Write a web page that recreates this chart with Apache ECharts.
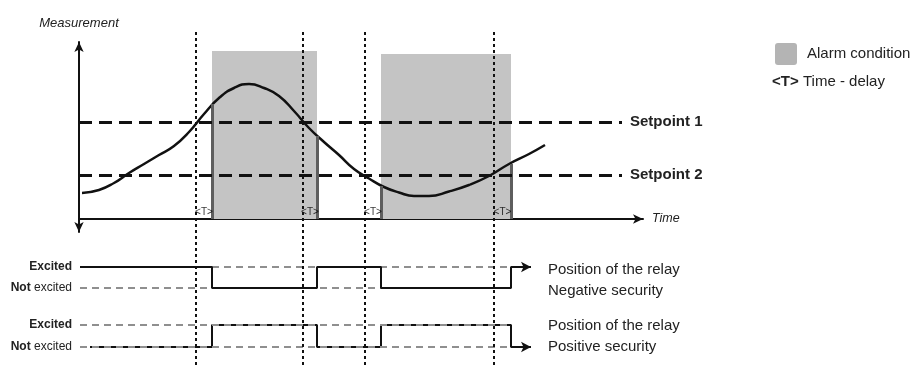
<!DOCTYPE html>
<html>
<head>
<meta charset="utf-8">
<script src="https://cdn.jsdelivr.net/npm/echarts@6.0.0/dist/echarts.min.js"></script>
<style>
  html, body { margin: 0; background: #fff; }
  #main { width: 922px; height: 372px; }
</style>
</head>
<body>
<div id="main"></div>
<script>
const curveTime  = [0.3, 2.0, 3.5, 5.0, 6.5, 8.0, 9.5, 11.0, 12.5, 14.0, 15.5, 17.0, 18.5, 20.0, 21.5, 23.0, 24.5, 26.0, 27.5, 29.0, 30.5, 32.0, 33.5, 35.0, 37.0, 39.0, 41.0, 43.0, 45.0, 46.6];
const curveValue = [2.6, 2.9, 3.6, 4.6, 5.5, 6.4, 7.3, 8.7, 10.5, 12.1, 13.1, 13.5, 13.1, 12.3, 10.8, 9.1, 7.7, 6.4, 5.0, 4.05, 3.2, 2.65, 2.3, 2.3, 2.75, 3.4, 4.3, 5.5, 6.5, 7.4];

const setpointNames  = ['Setpoint 1', 'Setpoint 2'];
const setpointValues = [9.7, 4.4];
const setpointEnd = 54.3;

// where the curve crosses a setpoint, and where the relay switches (after <T>)
const crossTimes  = [11.7, 22.4, 28.6, 41.5];
const switchTimes = [13.3, 23.8, 30.2, 43.2];
const switchLevel = [11.5, 8.3, 3.3, 5.5];
const alarmTops   = [16.8, 16.5];

const negStates = [1, 0, 1, 0, 1];
const posStates = [0, 1, 0, 1, 0];
const relayStart = [0.1, 1.1];
const levelEnd = 43.2;
const relayEnd = 45.2;

const font = 'Liberation Sans, Arial, sans-serif';
const chart = echarts.init(document.getElementById('main'));

const alarmAreas = [
  [{ coord: [switchTimes[0], alarmTops[0]] }, { coord: [switchTimes[1], 0] }],
  [{ coord: [switchTimes[2], alarmTops[1]] }, { coord: [switchTimes[3], 0] }]
];
const edges = switchTimes.map((t, i) => [{ coord: [t, 0] }, { coord: [t, switchLevel[i]] }]);
const setpointLines = setpointValues.map((v, i) => [
  { coord: [0, v], name: setpointNames[i] }, { coord: [setpointEnd, v] }
]);
const delayMarks = crossTimes.map((t, i) => [(t + switchTimes[i]) / 2, 0]);

function relayData(start, states) {
  const d = [[start, states[0]]];
  switchTimes.forEach((t, i) => d.push([t, states[i + 1]]));
  d.push({ value: [relayEnd, states[states.length - 1]], symbol: 'arrow', symbolSize: [8, 10], symbolRotate: -90 });
  return d;
}

function levelSeries(idx, z) {
  return [0, 1].map(v => ({
    type: 'line', xAxisIndex: idx, yAxisIndex: idx, z: z, silent: true,
    symbol: 'none', data: [[0.1, v], [levelEnd, v]],
    lineStyle: { color: '#8f8f8f', width: 2, type: [7, 5] }
  }));
}

const relayAxisLabel = {
  margin: 7, fontFamily: font, fontSize: 12, color: '#222',
  formatter: v => v === 1 ? '{b|Excited}' : '{b|Not} excited',
  rich: { b: { fontWeight: 'bold', fontFamily: font, fontSize: 12, color: '#222' } }
};

const hiddenX = i => ({ gridIndex: i, type: 'value', min: 0, max: 56.4, show: false });
const relayY = i => ({
  gridIndex: i, type: 'value', min: 0, max: 1, interval: 1,
  axisLine: { show: false }, axisTick: { show: false }, splitLine: { show: false },
  axisLabel: relayAxisLabel
});

const option = {
  animation: false,
  backgroundColor: '#fff',
  grid: [
    { left: 79, top: 42, width: 564, height: 190 },
    { left: 79, top: 267, width: 564, height: 21 },
    { left: 79, top: 325, width: 564, height: 22 },
    { left: 79, top: 32, width: 564, height: 333 }
  ],
  xAxis: [
    {
      gridIndex: 0, type: 'value', min: 0, max: 56.4,
      name: 'Time', nameLocation: 'end', nameGap: 9,
      nameTextStyle: { fontFamily: font, fontStyle: 'italic', fontSize: 12.5, color: '#222' },
      axisLine: { lineStyle: { color: '#111', width: 2 }, symbol: ['none', 'arrow'], symbolSize: [7, 10] },
      axisTick: { show: false }, axisLabel: { show: false }, splitLine: { show: false }
    },
    hiddenX(1), hiddenX(2), hiddenX(3)
  ],
  yAxis: [
    {
      gridIndex: 0, type: 'value', min: -1.3, max: 17.7,
      name: 'Measurement', nameLocation: 'end', nameGap: 12,
      nameTextStyle: { fontFamily: font, fontStyle: 'italic', fontSize: 13, color: '#222' },
      axisLine: { lineStyle: { color: '#111', width: 2 }, symbol: ['arrow', 'arrow'], symbolSize: [7, 10] },
      axisTick: { show: false }, axisLabel: { show: false }, splitLine: { show: false }
    },
    relayY(1), relayY(2),
    { gridIndex: 3, type: 'value', min: 0, max: 1, show: false }
  ],
  graphic: [
    { type: 'rect', x: 775, y: 43, shape: { width: 22, height: 22, r: 3 }, style: { fill: '#b4b4b4' } },
    { type: 'text', x: 807, y: 54, style: { text: 'Alarm condition', font: '15px ' + font, fill: '#222', verticalAlign: 'middle' } },
    { type: 'text', x: 772, y: 82, style: { text: '<T>', font: 'bold 15px ' + font, fill: '#222', verticalAlign: 'middle' } },
    { type: 'text', x: 803, y: 82, style: { text: 'Time - delay', font: '15px ' + font, fill: '#222', verticalAlign: 'middle' } },
    { type: 'text', x: 548, y: 270, style: { text: 'Position of the relay', font: '15px ' + font, fill: '#222', verticalAlign: 'middle' } },
    { type: 'text', x: 548, y: 291, style: { text: 'Negative security', font: '15px ' + font, fill: '#222', verticalAlign: 'middle' } },
    { type: 'text', x: 548, y: 326, style: { text: 'Position of the relay', font: '15px ' + font, fill: '#222', verticalAlign: 'middle' } },
    { type: 'text', x: 548, y: 347, style: { text: 'Positive security', font: '15px ' + font, fill: '#222', verticalAlign: 'middle' } }
  ],
  series: [
    {
      type: 'line', xAxisIndex: 0, yAxisIndex: 0, z: 1, data: [], silent: true,
      markArea: { silent: true, itemStyle: { color: '#c4c4c4' }, data: alarmAreas }
    },
    {
      type: 'line', xAxisIndex: 0, yAxisIndex: 0, z: 2, data: [], silent: true,
      markLine: {
        silent: true, symbol: ['none', 'none'], label: { show: false },
        lineStyle: { color: '#5e5e5e', width: 3, type: 'solid' }, data: edges
      }
    },
    {
      type: 'line', xAxisIndex: 0, yAxisIndex: 0, z: 3, data: [], silent: true,
      markLine: {
        silent: true, symbol: ['none', 'none'],
        lineStyle: { color: '#111', width: 3, type: [13, 7] },
        label: {
          show: true, position: 'end', distance: 8, formatter: p => p.name,
          fontFamily: font, fontWeight: 'bold', fontSize: 15, color: '#222'
        },
        data: setpointLines
      }
    },
    {
      type: 'line', xAxisIndex: 0, yAxisIndex: 0, z: 4, smooth: 0.5, smoothConstraint: false, symbol: 'none',
      data: curveTime.map((t, i) => [t, curveValue[i]]),
      lineStyle: { color: '#111', width: 2.5 }
    },
    {
      type: 'scatter', xAxisIndex: 0, yAxisIndex: 0, z: 5, symbolSize: 0,
      itemStyle: { color: 'transparent' }, data: delayMarks,
      label: {
        show: true, position: 'top', distance: 2, formatter: '<T>',
        fontFamily: font, fontSize: 10, color: '#000', textBorderWidth: 0
      }
    },
    ...crossTimes.map(t => ({
      type: 'line', xAxisIndex: 3, yAxisIndex: 3, z: 6, symbol: 'none', silent: true,
      data: [[t, 0], [t, 1]],
      lineStyle: { color: '#111', width: 2, type: [3, 3] }
    })),
    ...levelSeries(1, 2),
    {
      type: 'line', xAxisIndex: 1, yAxisIndex: 1, z: 3, step: 'end', symbol: 'none',
      data: relayData(relayStart[0], negStates),
      itemStyle: { color: '#111' }, lineStyle: { color: '#111', width: 2 }
    },
    ...levelSeries(2, 3),
    {
      type: 'line', xAxisIndex: 2, yAxisIndex: 2, z: 2, step: 'end', symbol: 'none',
      data: relayData(relayStart[1], posStates),
      itemStyle: { color: '#111' }, lineStyle: { color: '#111', width: 2 }
    }
  ]
};

chart.setOption(option);
</script>
</body>
</html>
